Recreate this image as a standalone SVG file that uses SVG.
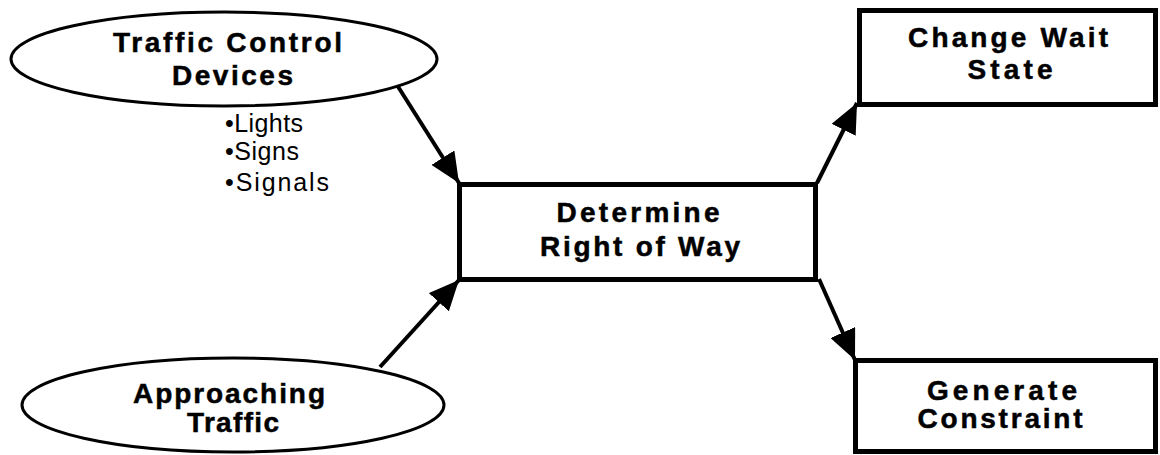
<svg xmlns="http://www.w3.org/2000/svg" width="1160" height="455" viewBox="0 0 1160 455">
<defs>
<style>
.bg{fill:#fff}
.ell{fill:#fff;stroke:#000;stroke-width:3}
.box{fill:#fff;stroke:#000;stroke-width:5}
.lbl{font-family:"Liberation Sans",Arial,Helvetica,sans-serif;font-weight:bold;font-size:28px;fill:#000;stroke:#000;stroke-width:0.5;text-anchor:middle}
.bul{font-family:"Liberation Sans",Arial,Helvetica,sans-serif;font-size:25px;fill:#000}
.conn{stroke:#000;stroke-width:4;fill:none}
</style>
<marker id="ah" markerUnits="userSpaceOnUse" viewBox="0 0 30 27" markerWidth="30" markerHeight="27" refX="30" refY="13.5" orient="auto">
<path d="M0,0 L30,13.5 L0,27 Z" fill="#000"/>
</marker>
</defs>
<rect class="bg" x="0" y="0" width="1160" height="455"/>
<g id="connectors">
<line class="conn" x1="397" y1="85" x2="459" y2="183" marker-end="url(#ah)"/>
<line class="conn" x1="380" y1="367" x2="459" y2="280" marker-end="url(#ah)"/>
<line class="conn" x1="817" y1="183" x2="857" y2="103" marker-end="url(#ah)"/>
<line class="conn" x1="819" y1="279" x2="855" y2="360" marker-end="url(#ah)"/>
</g>
<g id="traffic-control-devices">
<ellipse class="ell" cx="224" cy="59" rx="213" ry="47"/>
<text class="lbl" x="227.5" y="52" textLength="229" lengthAdjust="spacing">Traffic Control</text>
<text class="lbl" x="232.5" y="85" textLength="121" lengthAdjust="spacing">Devices</text>
<text class="bul" x="225" y="132" textLength="78" lengthAdjust="spacing">•Lights</text>
<text class="bul" x="225" y="160" textLength="74" lengthAdjust="spacing">•Signs</text>
<text class="bul" x="225" y="191" font-size="26" textLength="104" lengthAdjust="spacing">•Signals</text>
</g>
<g id="approaching-traffic">
<ellipse class="ell" cx="233" cy="405" rx="211" ry="47"/>
<text class="lbl" x="229" y="403" textLength="192" lengthAdjust="spacing">Approaching</text>
<text class="lbl" x="233" y="432" textLength="92" lengthAdjust="spacing">Traffic</text>
</g>
<g id="determine-right-of-way">
<rect class="box" x="459.5" y="184.5" width="356" height="95"/>
<text class="lbl" x="638" y="222" textLength="163" lengthAdjust="spacing">Determine</text>
<text class="lbl" x="640" y="256" textLength="200" lengthAdjust="spacing">Right of Way</text>
</g>
<g id="change-wait-state">
<rect class="box" x="859.5" y="10.5" width="296" height="94"/>
<text class="lbl" x="1008" y="47" textLength="200" lengthAdjust="spacing">Change Wait</text>
<text class="lbl" x="1010" y="79" textLength="85" lengthAdjust="spacing">State</text>
</g>
<g id="generate-constraint">
<rect class="box" x="855.5" y="360.5" width="300" height="91"/>
<text class="lbl" x="1002" y="400" textLength="150" lengthAdjust="spacing">Generate</text>
<text class="lbl" x="1000" y="428" textLength="165" lengthAdjust="spacing">Constraint</text>
</g>
</svg>
